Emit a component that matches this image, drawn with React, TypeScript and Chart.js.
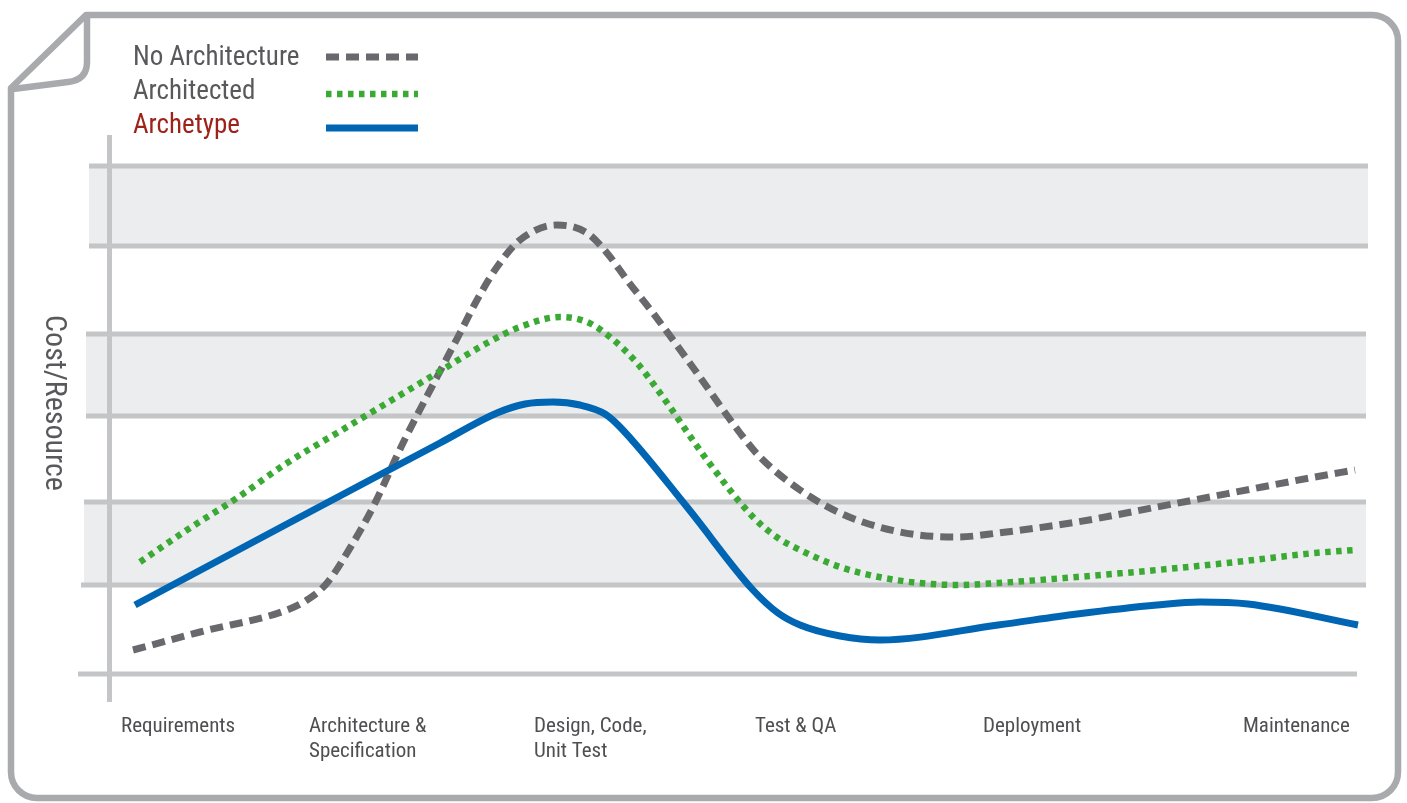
import React, { useEffect, useRef } from "react";
import { Chart, registerables } from "chart.js";

Chart.register(...registerables);

// ---- data ----
const STAGE_LABELS: (string | string[])[] = [
  "Requirements",
  ["Architecture &", "Specification"],
  ["Design, Code,", "Unit Test"],
  "Test & QA",
  "Deployment",
  "Maintenance",
];
const STAGE_POS = [4.3, 23.1, 45.6, 67.7, 90.5, 116.5];

const GRID_VALUES = [0, 8.9, 17.2, 25.8, 34.0, 42.8, 50.8];
const BAND_RANGES: [number, number][] = [
  [8.9, 17.2],
  [25.8, 34.0],
  [42.8, 50.8],
];

const Y_TITLE = "Cost/Resource";

const NO_ARCH_X = [5.5, 12.2, 20.9, 22.9, 24.9, 27.5, 29.5, 32.5, 35.9, 38.2, 39.9, 41.9, 44.2, 47.9, 50.9, 52.9, 54.9, 57.5, 61.9, 66.2, 68.2, 72.2, 76.2, 80.1, 84.1, 88.0, 92.0, 99.9, 107.9, 115.8, 123.7, 127.7];
const NO_ARCH_Y = [2.4, 4.2, 6.4, 7.4, 9.1, 13.1, 16.7, 23.1, 29.7, 34.1, 37.4, 40.7, 43.4, 44.9, 44.1, 42.1, 39.4, 36.1, 30.1, 24.1, 21.7, 18.4, 16.1, 14.7, 13.9, 13.7, 14.1, 15.2, 16.7, 18.2, 19.7, 20.4];

const ARCHITECTED_X = [6.2, 10.9, 15.9, 20.9, 25.9, 30.9, 35.9, 40.9, 44.2, 48.2, 50.9, 53.2, 55.9, 58.2, 62.9, 67.5, 70.0, 72.2, 76.2, 80.1, 84.1, 88.0, 92.0, 99.9, 107.9, 115.8, 123.7, 127.7];
const ARCHITECTED_Y = [11.2, 14.4, 17.6, 21.1, 24.1, 27.1, 30.1, 33.1, 34.7, 35.7, 35.2, 33.7, 31.1, 28.1, 21.4, 15.7, 13.6, 12.4, 10.7, 9.7, 9.1, 8.9, 9.1, 9.7, 10.4, 11.2, 12.1, 12.4];

const ARCHETYPE_X = [5.7, 20.9, 30.9, 36.2, 41.9, 44.7, 47.5, 50.2, 52.7, 54.2, 60.9, 67.5, 70.0, 72.2, 76.2, 80.2, 92.0, 99.9, 107.9, 112.2, 117.0, 128.0];
const ARCHETYPE_Y = [6.9, 15.0, 20.3, 23.1, 26.1, 27.0, 27.2, 26.9, 26.0, 24.7, 16.7, 8.4, 6.1, 4.9, 3.8, 3.4, 4.9, 6.0, 6.9, 7.2, 7.0, 4.9];

const SERIES_LABELS = ["No Architecture", "Architected", "Archetype"];

const zip = (xs: number[], ys: number[]) => xs.map((x, i) => ({ x, y: ys[i] }));

const FONT = '"Liberation Sans Narrow", "Arial Narrow", "Roboto Condensed", "Roboto", "Liberation Sans", sans-serif';
const TEXT_GRAY = "#59595c";
const LEGEND_TEXT_COLORS = [TEXT_GRAY, TEXT_GRAY, "#9d2219"];
const FRAME = "#a9aaad";
const GRID = "#c4c5c7";
const BAND = "#ecedef";

const framePlugin = {
  id: "frame",
  beforeDraw(chart: any) {
    const ctx = chart.ctx;
    ctx.save();
    ctx.strokeStyle = FRAME;
    ctx.lineWidth = 6.5;
    ctx.lineJoin = "round";
    const L = 11, T = 15, R = 1398, B = 798, r = 26;
    ctx.beginPath();
    ctx.moveTo(L, 88);
    ctx.lineTo(86, T);
    ctx.lineTo(R - r, T);
    ctx.arcTo(R, T, R, T + r, r);
    ctx.lineTo(R, B - r);
    ctx.arcTo(R, B, R - r, B, r);
    ctx.lineTo(L + r, B);
    ctx.arcTo(L, B, L, B - r, r);
    ctx.closePath();
    ctx.stroke();
    // folded corner
    ctx.beginPath();
    ctx.moveTo(87, 17);
    ctx.lineTo(87, 62);
    ctx.quadraticCurveTo(87, 80, 68, 82);
    ctx.lineTo(13, 89);
    ctx.stroke();
    ctx.restore();
  },
};

const bandsPlugin = {
  id: "bands",
  beforeDatasetsDraw(chart: any) {
    const ctx = chart.ctx;
    const xs = chart.scales.x;
    const ys = chart.scales.y;
    const lefts = [78, 81, 84, 86, 86, 89, 89];
    const rights = [1357, 1366, 1366, 1366, 1366, 1368, 1368];
    ctx.save();
    ctx.fillStyle = BAND;
    BAND_RANGES.forEach(([a, b], i) => {
      const y1 = ys.getPixelForValue(b);
      const y2 = ys.getPixelForValue(a);
      const l = lefts[2 * i + 2];
      ctx.fillRect(l, y1, rights[2 * i + 2] - l, y2 - y1);
    });
    ctx.strokeStyle = GRID;
    ctx.lineWidth = 5;
    GRID_VALUES.forEach((v, i) => {
      const y = ys.getPixelForValue(v);
      ctx.beginPath();
      ctx.moveTo(lefts[i], y);
      ctx.lineTo(rights[i], y);
      ctx.stroke();
    });
    // vertical axis
    const ax = xs.getPixelForValue(3.15);
    ctx.beginPath();
    ctx.moveTo(ax, ys.getPixelForValue(53.9));
    ctx.lineTo(ax, ys.getPixelForValue(-2.8));
    ctx.stroke();
    ctx.restore();
  },
};

const legendPlugin = {
  id: "customLegend",
  afterDraw(chart: any) {
    const ctx = chart.ctx;
    ctx.save();
    const textY = [58, 92, 126];
    const lineY = [57, 94, 128];
    ctx.font = `27px ${FONT}`;
    ctx.textBaseline = "middle";
    ctx.textAlign = "left";
    chart.data.datasets.forEach((ds: any, i: number) => {
      ctx.fillStyle = LEGEND_TEXT_COLORS[i];
      ctx.fillText(ds.label, 133, textY[i]);
      ctx.beginPath();
      ctx.strokeStyle = ds.borderColor;
      ctx.lineWidth = ds.borderWidth;
      ctx.setLineDash(ds.borderDash || []);
      ctx.moveTo(326, lineY[i]);
      ctx.lineTo(418, lineY[i]);
      ctx.stroke();
    });
    ctx.setLineDash([]);
    // y title
    ctx.translate(53, 403);
    ctx.rotate(Math.PI / 2);
    ctx.textAlign = "center";
    ctx.fillStyle = TEXT_GRAY;
    ctx.font = `30px ${FONT}`;
    ctx.fillText(Y_TITLE, 0, 0);
    ctx.restore();
  },
};

export default function App() {
  const ref = useRef<HTMLCanvasElement | null>(null);
  useEffect(() => {
    if (!ref.current) return;
    const chart = new Chart(ref.current, {
      type: "line",
      data: {
        datasets: [
          {
            label: SERIES_LABELS[0],
            data: zip(NO_ARCH_X, NO_ARCH_Y),
            borderColor: "#69686d",
            borderWidth: 7,
            borderDash: [13, 7],
            pointRadius: 0,
            cubicInterpolationMode: "monotone",
            borderCapStyle: "butt",
            order: 2,
          },
          {
            label: SERIES_LABELS[1],
            data: zip(ARCHITECTED_X, ARCHITECTED_Y),
            borderColor: "#3aaa35",
            borderWidth: 6.5,
            borderDash: [5.5, 5.5],
            pointRadius: 0,
            cubicInterpolationMode: "monotone",
            borderCapStyle: "butt",
            order: 1,
          },
          {
            label: SERIES_LABELS[2],
            data: zip(ARCHETYPE_X, ARCHETYPE_Y),
            borderColor: "#0066b3",
            borderWidth: 7,
            pointRadius: 0,
            cubicInterpolationMode: "monotone",
            order: 0,
          },
        ],
      } as any,
      options: {
        animation: false,
        responsive: false,
        events: [],
        layout: { padding: { left: 78, right: 37, top: 120, bottom: 3 } },
        plugins: { legend: { display: false }, tooltip: { enabled: false } },
        scales: {
          x: {
            type: "linear",
            min: 0,
            max: 129.2,
            grid: { display: false, drawTicks: false },
            border: { display: false },
            afterBuildTicks: (scale: any) => {
              scale.ticks = STAGE_POS.map((v) => ({ value: v }));
            },
            afterFit: (scale: any) => {
              scale.height = 96;
            },
            ticks: {
              autoSkip: false,
              maxRotation: 0,
              minRotation: 0,
              align: "start",
              padding: 10,
              color: "#4f4f52",
              font: { family: FONT, size: 21, lineHeight: 1.2 },
              callback: (_v: any, i: number) => STAGE_LABELS[i],
            },
          },
          y: {
            type: "linear",
            display: false,
            min: -3,
            max: 55.4,
          },
        },
      } as any,
      plugins: [framePlugin, bandsPlugin, legendPlugin],
    });
    return () => chart.destroy();
  }, []);
  return (
    <div style={{ position: "fixed", left: 0, top: 0, width: 1407, height: 803, background: "#fff" }}>
      <canvas ref={ref} width={1407} height={803} style={{ width: 1407, height: 803 }} />
    </div>
  );
}
